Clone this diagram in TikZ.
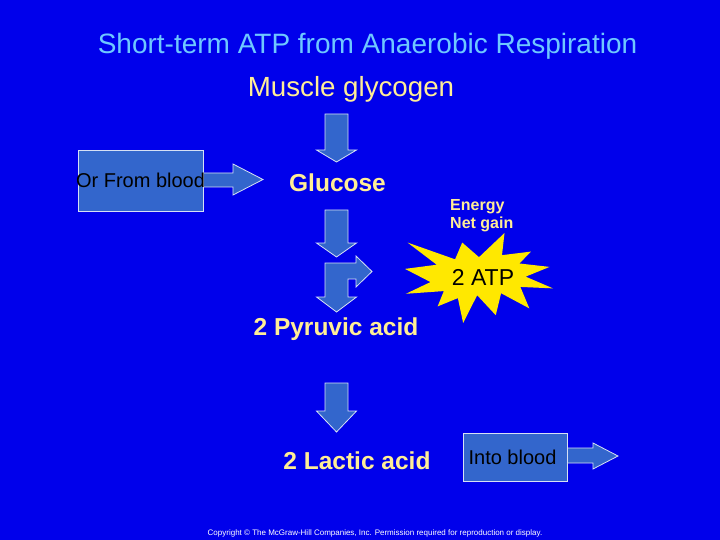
\documentclass[tikz,border=0pt]{standalone}
\usepackage{fontspec}
\setmainfont{Liberation Sans}

\definecolor{slideblue}{RGB}{0,0,235}
\definecolor{arrowblue}{RGB}{51,102,204}
\definecolor{titlecyan}{RGB}{110,200,255}
\definecolor{paleyellow}{RGB}{255,238,150}
\definecolor{stargold}{RGB}{255,232,0}

\begin{document}
\begin{tikzpicture}[x=1pt, y=-1pt]
        \tikzstyle{every node}=[inner sep=0pt, anchor=base]
        \tikzstyle{blockarrow}=[fill=arrowblue, draw=white!80!arrowblue, line width=0.8pt, line join=miter]
        \tikzstyle{sidebox}=[fill=arrowblue, draw=white!80!arrowblue, line width=0.8pt, anchor=center]
        \tikzstyle{boxtext}=[anchor=center, font=\fontsize{20}{24}\selectfont, text=black]
        \tikzstyle{stagelabel}=[font=\bfseries\fontsize{24.5}{28}\selectfont, text=paleyellow]

% background of the slide
        \fill[slideblue] (0,0) rectangle (720,540);
        \useasboundingbox (0,0) rectangle (720,540);

        \node[font=\fontsize{28}{32}\selectfont, text=titlecyan] (title) at (367.5,54) {Short-term ATP from Anaerobic Respiration};
        \node[font=\fontsize{27.7}{32}\selectfont, text=paleyellow] (glycogen) at (351,97) {Muscle glycogen};
        \node[stagelabel] (glucose) at (337.5,192) {Glucose};
        \node[stagelabel] (pyruvic) at (336,335) {2 Pyruvic acid};
        \node[stagelabel] (lactic) at (357,469) {2 Lactic acid};

        \node[sidebox, minimum width=125pt, minimum height=61pt] (fromblood) at (140.5,180.5) {};
        \node[sidebox, minimum width=104pt, minimum height=48pt] (intoblood) at (515,457) {};

% block arrows
        \draw[blockarrow] (325,114) -- (348,114) -- (348,150) -- (356.5,150) -- (336.5,162) -- (316.5,150) -- (325,150) -- cycle;
        \draw[blockarrow] (325,210) -- (348,210) -- (348,243) -- (356.5,243) -- (336.5,257) -- (316.5,243) -- (325,243) -- cycle;
        \draw[blockarrow] (325,263) -- (356,263) -- (356,256) -- (372,271.5) -- (356,287) -- (356,279) -- (348,279) -- (348,297)
                -- (356.5,297) -- (336.5,312) -- (316.5,297) -- (325,297) -- cycle;
        \draw[blockarrow] (325,383) -- (348,383) -- (348,411) -- (356.5,411) -- (336.5,432) -- (316.5,411) -- (325,411) -- cycle;
        \draw[blockarrow] (fromblood.east |- 0,173) -- (233,173) -- (233,164) -- (263,179.5) -- (233,195) -- (233,187) -- (fromblood.east |- 0,187) -- cycle;
        \draw[blockarrow] (intoblood.east |- 0,448) -- (593,448) -- (593,443) -- (618,456) -- (593,469) -- (593,463) -- (intoblood.east |- 0,463) -- cycle;

        \node[boxtext] (fromtext) at (fromblood.center) {Or From blood};
        \node[boxtext] (intotext) at (512.5,457) {Into blood};

% the 2 ATP explosion
        \begin{scope}[shift={(405,233)}, xscale=148/216, yscale=90/216]
            \fill[stargold] (108.00,58.00) -- (145.22,0) -- (141.55,53.25) -- (183.80,44.57) -- (167.02,73.15) -- (210.97,81.37)
                -- (176.07,104.75) -- (216.00,132.90) -- (168.37,129.42) -- (181.45,180.95) -- (140.20,144.57) -- (132.47,197.37)
                -- (105.32,149.35) -- (84.85,216.00) -- (77.15,156.27) -- (47.62,176.17) -- (56.67,139.37) -- (1.35,145.87)
                -- (37.22,117.75) -- (0,86.15) -- (46.27,76.17) -- (3.70,22.95) -- (73.12,63.20) -- (83.52,22.95) -- cycle;
        \end{scope}
        \node[font=\fontsize{23}{26}\selectfont, text=black] (atp) at (483,285) {2 ATP};
        \node[font=\bfseries\fontsize{16}{20}\selectfont, text=paleyellow, anchor=base west] (energy) at (450,210.5) {Energy};
        \node[font=\bfseries\fontsize{16}{20}\selectfont, text=paleyellow, anchor=base west] (netgain) at (450,228.5) {Net gain};

        \node[font=\fontsize{8}{9}\selectfont, text=white] (copyright) at (375,535) {Copyright \textcopyright{} The McGraw-Hill Companies, Inc. Permission required for reproduction or display.};

    \end{tikzpicture}
\end{document}
